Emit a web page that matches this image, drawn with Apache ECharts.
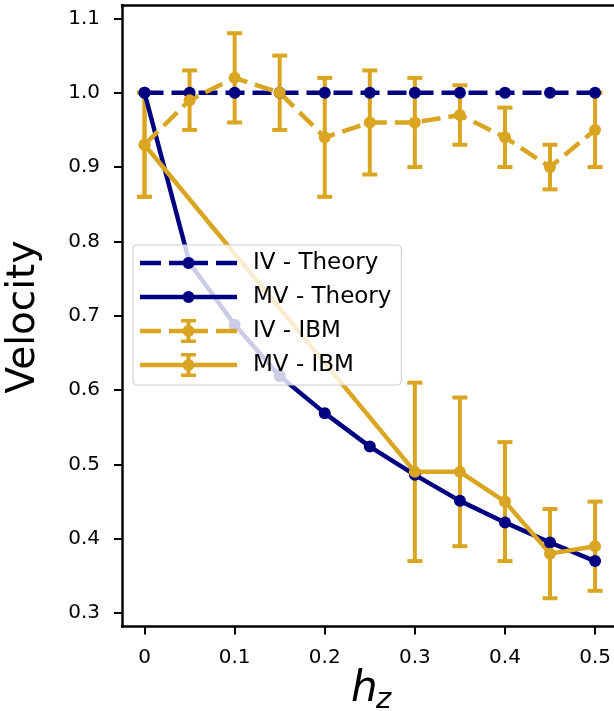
<!DOCTYPE html>
<html>
<head>
<meta charset="utf-8">
<script src="https://cdn.jsdelivr.net/npm/echarts@6/dist/echarts.min.js"></script>
<style>
  html, body { margin: 0; padding: 0; background: #fff; }
  #chart { width: 614px; height: 711px; }
</style>
</head>
<body>
<div id="chart"></div>
<script>
/* -------------------------------------------------------------------------- */
/*                                   Data                                     */
/* -------------------------------------------------------------------------- */

const hz = [0, 0.05, 0.1, 0.15, 0.2, 0.25, 0.3, 0.35, 0.4, 0.45, 0.5];
const ivTheory = [1, 1, 1, 1, 1, 1, 1, 1, 1, 1, 1];
const mvTheory = [1.0, 0.771, 0.688, 0.619, 0.569, 0.524, 0.486, 0.451, 0.422, 0.395, 0.37];

const ivIbm = [0.93, 0.99, 1.02, 1.0, 0.94, 0.96, 0.96, 0.97, 0.94, 0.9, 0.95];
const ivIbmErr = [0.07, 0.04, 0.06, 0.05, 0.08, 0.07, 0.06, 0.04, 0.04, 0.03, 0.05];

const mvIbmHz = [0, 0.3, 0.35, 0.4, 0.45, 0.5];
const mvIbm = [0.93, 0.49, 0.49, 0.45, 0.38, 0.39];
const mvIbmErr = [0.07, 0.12, 0.1, 0.08, 0.06, 0.06];

const xTicks = [0, 0.1, 0.2, 0.3, 0.4, 0.5];
const yTicks = [0.3, 0.4, 0.5, 0.6, 0.7, 0.8, 0.9, 1.0, 1.1];

const NAVY = '#000080';
const GOLD = '#daa520';
const FONT = 'DejaVu Sans';

/* -------------------------------------------------------------------------- */
/*                                 Helpers                                    */
/* -------------------------------------------------------------------------- */

const pairs = (xs, ys) => xs.map((x, i) => [x, ys[i]]);
const errRows = (xs, ys, es) => xs.map((x, i) => [x, ys[i] - es[i], ys[i] + es[i]]);

const renderErrorBar = (color) => (params, api) => {
  const lo = api.coord([api.value(0), api.value(1)]);
  const hi = api.coord([api.value(0), api.value(2)]);
  const half = 7.5;
  const style = { stroke: color, lineWidth: 4 };
  return {
    type: 'group',
    children: [
      { type: 'line', shape: { x1: lo[0], y1: lo[1], x2: hi[0], y2: hi[1] }, style },
      { type: 'line', shape: { x1: lo[0] - half, y1: lo[1], x2: lo[0] + half, y2: lo[1] }, style },
      { type: 'line', shape: { x1: hi[0] - half, y1: hi[1], x2: hi[0] + half, y2: hi[1] }, style },
    ],
  };
};

// legend handles drawn as filled paths in a 97 x 24 box
const rect = (x0, y0, x1, y1) => `M${x0} ${y0}L${x1} ${y0}L${x1} ${y1}L${x0} ${y1}Z`;
const dot = (cx, cy, r) =>
  `M${cx - r} ${cy}A${r} ${r} 0 1 1 ${cx + r} ${cy}A${r} ${r} 0 1 1 ${cx - r} ${cy}Z`;

const legendHandle = (dashed, errorBar) => {
  const segs = dashed ? [[0, 21], [29, 68], [76, 97]] : [[0, 97]];
  let d = segs.map(([a, b]) => rect(a, 9.75, b, 14.25)).join('');
  d += dot(48.5, 12, 6);
  if (errorBar) {
    d += rect(46.5, 1.5, 50.5, 22.5);
    d += rect(41, 0, 56, 3.5);
    d += rect(41, 20.5, 56, 24);
  }
  return `path://${d}`;
};

const lineSeries = (name, data, color, dashed) => ({
  name,
  type: 'line',
  data,
  symbol: 'circle',
  symbolSize: 12,
  showSymbol: true,
  animation: false,
  itemStyle: { color },
  lineStyle: { color, width: 4.5, type: dashed ? [19, 8] : 'solid' },
});

const errSeries = (name, data, color) => ({
  name,
  type: 'custom',
  data,
  animation: false,
  encode: { x: 0, y: [1, 2] },
  renderItem: renderErrorBar(color),
});

const axisText = { color: '#000', fontFamily: FONT, fontSize: 20 };
const spine = { show: true, onZero: false, lineStyle: { color: '#000', width: 2.5 } };
const tick = { show: true, length: 8, lineStyle: { color: '#000', width: 2 } };

/* -------------------------------------------------------------------------- */

const chart = echarts.init(document.getElementById('chart'), null, { renderer: 'canvas' });

chart.setOption({
  backgroundColor: '#fff',
  grid: { left: 122, right: 0, top: 5, bottom: 84.5 },
  xAxis: [
    {
      type: 'value',
      min: -0.025,
      max: 0.521,
      axisLine: spine,
      axisTick: { ...tick, customValues: xTicks },
      axisLabel: {
        ...axisText,
        margin: 21,
        customValues: xTicks,
        formatter: (v) => (v === 0 ? '0' : v.toFixed(1)),
      },
      splitLine: { show: false },
    },
    {
      type: 'value',
      position: 'top',
      min: -0.025,
      max: 0.521,
      axisLine: spine,
      axisTick: { show: false },
      axisLabel: { show: false },
      splitLine: { show: false },
    },
  ],
  yAxis: {
    type: 'value',
    min: 0.282,
    max: 1.118,
    axisLine: spine,
    axisTick: { ...tick, customValues: yTicks },
    axisLabel: {
      ...axisText,
      margin: 22,
      customValues: yTicks,
      formatter: (v) => v.toFixed(1),
    },
    splitLine: { show: false },
  },
  legend: {
    orient: 'vertical',
    left: 133,
    top: 245,
    padding: [6, 10, 8, 7],
    itemWidth: 97,
    itemHeight: 24,
    itemGap: 10,
    symbolKeepAspect: true,
    itemStyle: { borderWidth: 0 },
    backgroundColor: 'rgba(255,255,255,0.8)',
    borderColor: '#cccccc',
    borderWidth: 1,
    borderRadius: 4,
    data: [
      { name: 'IV - Theory', icon: legendHandle(true, false) },
      { name: 'MV - Theory', icon: legendHandle(false, false) },
      { name: 'IV - IBM', icon: legendHandle(true, true) },
      { name: 'MV - IBM', icon: legendHandle(false, true) },
    ],
    textStyle: {
      color: '#000',
      fontFamily: FONT,
      fontSize: 23,
      lineHeight: 24,
      padding: [0, 0, 0, 11],
    },
  },
  graphic: [
    {
      type: 'text',
      x: 24,
      y: 317,
      rotation: Math.PI / 2,
      style: {
        text: 'Velocity',
        fill: '#000',
        font: `39px "${FONT}"`,
        textAlign: 'center',
        textVerticalAlign: 'middle',
      },
    },
    {
      type: 'text',
      x: 351,
      y: 690,
      style: {
        text: 'h',
        fill: '#000',
        font: `italic 42px "${FONT}"`,
        textAlign: 'left',
        textVerticalAlign: 'middle',
      },
    },
    {
      type: 'text',
      x: 376,
      y: 700,
      style: {
        text: 'z',
        fill: '#000',
        font: `italic 29px "${FONT}"`,
        textAlign: 'left',
        textVerticalAlign: 'middle',
      },
    },
  ],
  series: [
    lineSeries('IV - Theory', pairs(hz, ivTheory), NAVY, true),
    lineSeries('MV - Theory', pairs(hz, mvTheory), NAVY, false),
    errSeries('IV - IBM err', errRows(hz, ivIbm, ivIbmErr), GOLD),
    lineSeries('IV - IBM', pairs(hz, ivIbm), GOLD, true),
    errSeries('MV - IBM err', errRows(mvIbmHz, mvIbm, mvIbmErr), GOLD),
    lineSeries('MV - IBM', pairs(mvIbmHz, mvIbm), GOLD, false),
  ],
});
</script>
</body>
</html>
